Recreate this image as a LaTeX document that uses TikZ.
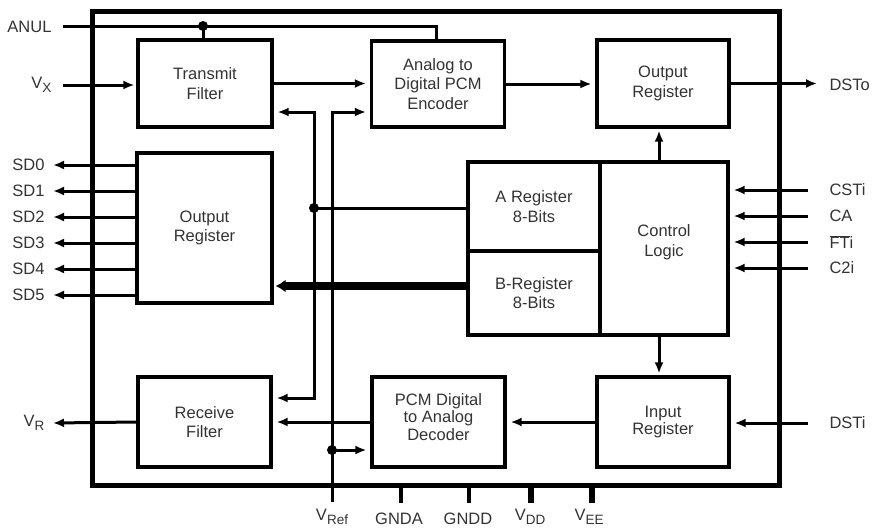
\documentclass[tikz,border=0pt]{standalone}
\usepackage{fontspec}
\setmainfont{Liberation Sans}
\usetikzlibrary{arrows.meta}
\newcommand\pinsub[1]{\raisebox{-4.5pt}{\fontsize{13.5}{13.5}\selectfont #1}}
\begin{document}
\begin{tikzpicture}[x=1pt,y=-1pt,
  txt/.style={text=black!80, font=\fontsize{16.5}{19.5}\selectfont},
  box/.style={draw, line width=3.2pt, inner sep=0pt, align=center, txt},
  wire/.style={line width=3pt},
  arr/.style={wire, -{Latex[length=11pt,width=9pt]}, shorten >=4pt},
  dot/.style={circle, fill, inner sep=0pt, minimum size=10pt},
  ]
\useasboundingbox (0,0) rectangle (872,530);
% chip outline
\node[draw, line width=5pt, inner sep=0pt, minimum width=687pt, minimum height=474pt] (chip) at (435.5,248) {};
% blocks
\node[box, minimum width=134pt, minimum height=87pt] (tf) at (205,83.5) {Transmit\\Filter};
\node[box, minimum width=133pt, minimum height=86pt] (enc) at (438,84) {Analog to\\Digital PCM\\Encoder};
\node[box, minimum width=132pt, minimum height=87pt] (oreg) at (663,83.5) {Output\\Register};
\node[box, minimum width=135pt, minimum height=150pt] (lor) at (204.5,228) {Output\\Register};
\node[box, minimum width=132pt, minimum height=89pt] (areg) at (534,206.5) {A Register\\8-Bits};
\node[box, minimum width=132pt, minimum height=84pt] (breg) at (534,293) {B-Register\\8-Bits};
\node[box, minimum width=128pt, minimum height=173pt] (ctrl) at (664,248.5) {};
\node[txt, align=center] (ctrltxt) at (664,242) {Control\\Logic};
\node[box, minimum width=133pt, minimum height=90pt] (rf) at (204.5,422) {Receive\\Filter};
\node[box, minimum width=133pt, minimum height=90pt] (dec) at (438.5,422) {};
\node[txt, align=center, font=\fontsize{16.5}{17.5}\selectfont] (dectxt) at (438.5,417) {PCM Digital\\to Analog\\Decoder};
\node[box, minimum width=132pt, minimum height=90pt, font=\fontsize{16.5}{17.5}\selectfont] (ireg) at (663,422) {Input\\Register};
% ANUL
\coordinate (anulL) at (63,26);
\coordinate (anulR) at (436,26);
\coordinate (anulJ) at (203,26);
\draw[wire] (anulL) -- (anulR) -- (anulR |- enc.north);
\draw[wire] (anulJ) -- (anulJ |- tf.north);
\node[dot] (j1) at (anulJ) {};
\node[txt, anchor=east] (lanul) at (55,27) {ANUL};
% VX
\coordinate (vx) at (63,85);
\draw[arr, shorten >=2pt] (vx) -- (vx -| tf.west);
\node[txt, anchor=east] (lvx) at (55,85) {V\pinsub{X}};
% forward path
\draw[arr] (tf.east) -- (tf.east -| enc.west);
\draw[arr] (enc.east) -- (enc.east -| oreg.west);
\coordinate (dsto) at (817,85);
\draw[arr, shorten >=0pt] (oreg.east) -- (oreg.east -| dsto);
\node[txt, anchor=west] (ldsto) at (826,85) {DSTo};
% x=314 line
\coordinate (a1) at (314,112);
\coordinate (a2) at (314,398);
\draw[wire, {Latex[length=11pt,width=9pt]}-{Latex[length=11pt,width=9pt]}, shorten <=4pt, shorten >=4pt] (a1 -| tf.east) -- (a1) -- (a2) -- (a2 -| rf.east);
\coordinate (ja) at (314,208);
\draw[wire] (ja) -- (ja -| areg.west);
\node[dot] (j2) at (ja) {};
% x=332 line (VRef)
\coordinate (b1) at (332,112);
\coordinate (vref) at (332,502);
\coordinate (jb) at (332,450);
\draw[arr] (vref) -- (b1) -- (b1 -| enc.west);
\draw[arr] (jb) -- (jb -| dec.west);
\node[dot] (j3) at (jb) {};
% B bus
\coordinate (bus) at (468,286);
\draw[line width=7.5pt, -{Latex[length=10pt,width=13pt]}, shorten >=2pt] (bus) -- (bus -| lor.east);
% SD outputs
\foreach \i/\y in {0/165,1/191,2/217,3/243,4/269,5/295}{
  \coordinate (sd\i) at (53,\y);
  \draw[arr, shorten >=0pt] (sd\i -| lor.west) -- (sd\i);
  \node[txt, anchor=east] (lsd\i) at (48,\y) {SD\i};
}
% control logic links
\coordinate (cx) at (659,0);
\draw[arr, shorten >=2pt] (cx |- ctrl.north) -- (cx |- oreg.south);
\draw[arr, shorten >=2pt] (cx |- ctrl.south) -- (cx |- ireg.north);
\foreach \n/\y/\t in {1/190/CSTi,2/216/CA,3/242/{$\overline{\mbox{FT}}$i},4/268/C2i}{
  \coordinate (ci\n) at (808,\y);
  \draw[arr] (ci\n) -- (ci\n -| ctrl.east);
  \node[txt, anchor=west] (lci\n) at (826,\y) {\t};
}
% receive path
\coordinate (dsti) at (808,423);
\draw[arr] (dsti) -- (dsti -| ireg.east);
\node[txt, anchor=west] (ldsti) at (826,423) {DSTi};
\draw[arr] (ireg.west) -- (ireg.west -| dec.east);
\draw[arr] (dec.west) -- (dec.west -| rf.east);
\coordinate (vr) at (53,423);
\draw[arr, shorten >=0pt] (rf.west) -- (vr);
\node[txt, anchor=east] (lvr) at (48,423) {V\pinsub{R}};
% bottom pins
\foreach \n/\x/\w in {A/401/3.5,D/469/3.5,DD/531/6.5,EE/592/6.5}{
  \coordinate (p\n) at (\x,503);
  \draw[line width=\w pt] (p\n) -- (p\n |- chip.south);
}
\node[txt] (lvref) at (332,517) {V\pinsub{Ref}};
\node[txt] (lgnda) at (399,519) {GNDA};
\node[txt] (lgndd) at (468,519) {GNDD};
\node[txt] (lvdd) at (530,517) {V\pinsub{DD}};
\node[txt] (lvee) at (589,517) {V\pinsub{EE}};
\end{tikzpicture}
\end{document}
